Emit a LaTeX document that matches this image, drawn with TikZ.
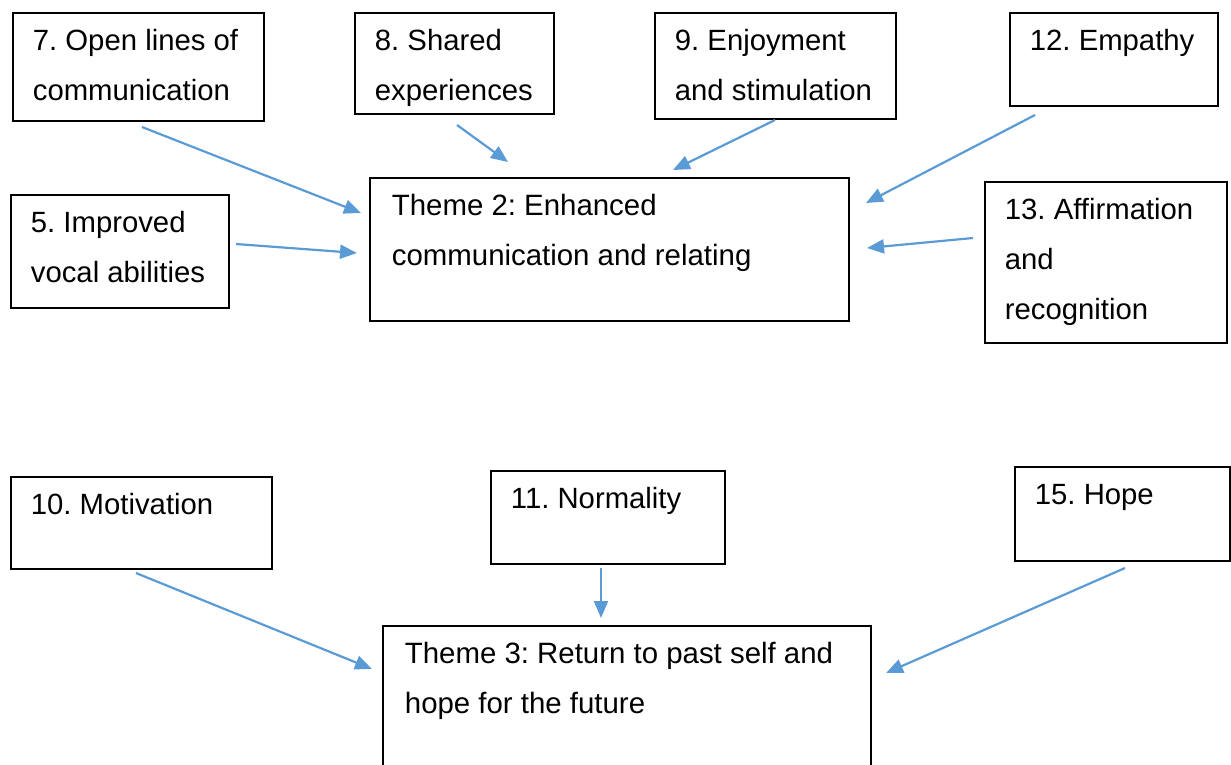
\documentclass[tikz,border=0pt]{standalone}
\usepackage{fontspec}
\setmainfont{Liberation Sans}
\usetikzlibrary{arrows.meta}
\definecolor{arrowblue}{RGB}{91,155,213}
\frenchspacing

\begin{document}
\begin{tikzpicture}[
    x=1pt, y=-1pt,
    every node/.style={
        draw,
        rectangle,
        line width=1.8pt,
        anchor=north west,
        align=flush left,
        inner xsep=20pt,
        inner ysep=0pt,
        text height=38pt,
        font=\fontsize{29.3}{50}\selectfont
    },
    theme/.style={inner xsep=22pt, font=\fontsize{29.4}{50}\selectfont},
    arrow/.style={-{Triangle[length=17pt, width=14pt]}, line width=2.2pt, color=arrowblue}
]
\useasboundingbox (0,0) rectangle (1231,764);
\clip (0,0) rectangle (1231,764);

% === Theme 2 contributors (top rows) ===
\node[text width=211pt, text depth=70pt] (open) at (12,12) {7. Open lines of\\communication};
\node[text width=159pt, text depth=63pt] (shared) at (354,12) {8. Shared\\experiences};
\node[text width=201pt, text depth=68pt] (enjoy) at (654,12) {9. Enjoyment\\and stimulation};
\node[text width=168pt, text depth=55pt] (empathy) at (1009,12) {12. Empathy};
\node[text width=178pt, text depth=75pt] (vocal) at (10,194) {5. Improved\\vocal abilities};
\node[text width=202pt, text depth=123pt] (affirm) at (984,181) {13. Affirmation\\and\\recognition};

% === Theme 2 ===
\node[theme, text width=435pt, text depth=105pt] (theme2) at (369,177) {Theme 2: Enhanced\\communication and relating};

% === Theme 3 contributors ===
\node[text width=221pt, text depth=54pt] (motiv) at (10,476) {10. Motivation};
\node[text width=194pt, text depth=55pt] (normal) at (490,470) {11. Normality};
\node[text width=175pt, text depth=56pt] (hope) at (1014,466) {15. Hope};

% === Theme 3 ===
\node[theme, text width=444pt, text depth=137pt] (theme3) at (382,625) {Theme 3: Return to past self and\\hope for the future};

% ============ ARROWS ============

% arrow ends (arrows stop short of the boxes)
\coordinate (open-t) at (142,127);    \coordinate (open-h) at (361,213);
\coordinate (shared-t) at (457,125);  \coordinate (shared-h) at (508,162);
\coordinate (enjoy-t) at (775,120);   \coordinate (enjoy-h) at (673,170);
\coordinate (empathy-t) at (1035,115);\coordinate (empathy-h) at (866,203);
\coordinate (vocal-t) at (236,244);   \coordinate (vocal-h) at (357,253);
\coordinate (affirm-t) at (973,238);  \coordinate (affirm-h) at (867,248);
\coordinate (motiv-t) at (136,573);   \coordinate (motiv-h) at (372,669);
\coordinate (normal-t) at (601,568);  \coordinate (normal-h) at (601,618);
\coordinate (hope-t) at (1125,568);   \coordinate (hope-h) at (886,673);

% Theme 2
\draw[arrow] (open-t) -- (open-h);
\draw[arrow] (shared-t) -- (shared-h);
\draw[arrow] (enjoy-t) -- (enjoy-h);
\draw[arrow] (empathy-t) -- (empathy-h);
\draw[arrow] (vocal-t) -- (vocal-h);
\draw[arrow] (affirm-t) -- (affirm-h);

% Theme 3
\draw[arrow] (motiv-t) -- (motiv-h);
\draw[arrow] (normal-t) -- (normal-h);
\draw[arrow] (hope-t) -- (hope-h);

\end{tikzpicture}
\end{document}
